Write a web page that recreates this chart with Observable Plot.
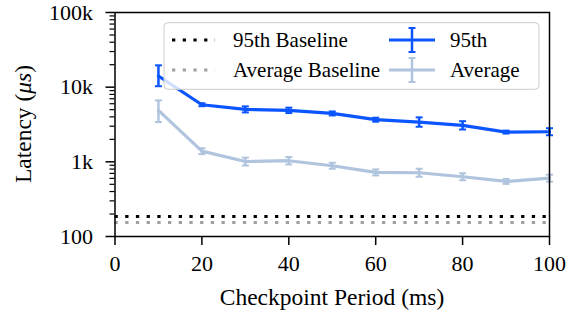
<!DOCTYPE html>
<html><head><meta charset="utf-8">
<script src="https://cdn.jsdelivr.net/npm/d3@7"></script>
<script src="https://cdn.jsdelivr.net/npm/@observablehq/plot@0.6"></script>
<style>body{margin:0;background:#fff} #chart{position:relative;width:575px;height:311px}
#chart svg, #chart svg text {font-family: "Liberation Serif", "Times New Roman", Times, serif !important;}</style>
</head><body><div id="chart"></div>
<script>
// ---- data ----
const periods = [10, 20, 30, 40, 50, 60, 70, 80, 90, 100];
const p95     = [14100, 5820, 5040, 4890, 4450, 3670, 3410, 3080, 2500, 2530];
const p95Lo   = [10300, 5560, 4590, 4500, 4180, 3450, 2950, 2710, 2390, 2270];
const p95Hi   = [19600, 6090, 5530, 5320, 4730, 3900, 3940, 3500, 2620, 2820];
const avg     = [4890, 1390, 1010, 1035, 887, 721, 714, 631, 546, 604];
const avgLo   = [3410, 1270, 893, 923, 809, 657, 631, 566, 506, 542];
const avgHi   = [6650, 1520, 1140, 1160, 973, 791, 808, 703, 590, 673];
const baseline95 = 185;
const baselineAvg = 154;
const xTicks = [0, 20, 40, 60, 80, 100];
const yTicks = [100, 1000, 10000, 100000];
const yTickLabels = ["100", "1k", "10k", "100k"];
const seriesNames = ["95th", "Average"];
const baselineNames = ["95th Baseline", "Average Baseline"];

const C95 = "#0a55ff", CAVG = "#b0c4de", CB95 = "#000000", CBAVG = "#a0a0a0";
const DASH = "3.3,7.4";

const rows = [];
periods.forEach((p, i) => {
  rows.push({series: "95th", x: p, y: p95[i], lo: p95Lo[i], hi: p95Hi[i]});
  rows.push({series: "Average", x: p, y: avg[i], lo: avgLo[i], hi: avgHi[i]});
});
const r95 = rows.filter(d => d.series === "95th");
const rAvg = rows.filter(d => d.series === "Average");

const minorTicks = [];
for (const dec of [100, 1000, 10000]) for (let k = 2; k <= 9; k++) minorTicks.push(dec * k);

const capSymbol = {draw(ctx, size) { const w = Math.sqrt(size / Math.PI); ctx.moveTo(-w, 0); ctx.lineTo(w, 0); }};

function seriesMarks(data, color) {
  return [
    Plot.line(data, {x: "x", y: "y", stroke: color, strokeWidth: 3.2}),
    Plot.ruleX(data, {x: "x", y1: "lo", y2: "hi", stroke: color, strokeWidth: 2.5}),
    Plot.dot(data, {x: "x", y: "lo", symbol: capSymbol, r: 3.5, stroke: color, strokeWidth: 2}),
    Plot.dot(data, {x: "x", y: "hi", symbol: capSymbol, r: 3.5, stroke: color, strokeWidth: 2})
  ];
}

const chart = Plot.plot({
  width: 575, height: 311,
  marginLeft: 114.5, marginRight: 26, marginTop: 12, marginBottom: 75,
  style: {fontSize: "22px", background: "white", color: "black"},
  x: {domain: [0, 100]},
  y: {type: "log", domain: [100, 100000]},
  marks: [
    Plot.ruleY([baseline95], {stroke: CB95, strokeWidth: 3, strokeDasharray: DASH}),
    Plot.ruleY([baselineAvg], {stroke: CBAVG, strokeWidth: 3, strokeDasharray: DASH}),
    ...seriesMarks(r95, C95),
    ...seriesMarks(rAvg, CAVG),
    Plot.frame({stroke: "black", strokeWidth: 1.5}),
    Plot.axisX({ticks: xTicks, tickSize: 9, tickPadding: 10, fontSize: 22, label: null, strokeWidth: 1.5}),
    Plot.axisY({ticks: yTicks, tickSize: 9, tickPadding: 13, fontSize: 22, label: null, strokeWidth: 1.5,
      tickFormat: d => yTickLabels[yTicks.indexOf(d)]}),
    Plot.axisY({ticks: minorTicks, tickSize: 5, tickFormat: () => "", label: null, strokeWidth: 1.2})
  ]
});
document.getElementById("chart").appendChild(chart);

const svg = d3.select(chart);
svg.append("text").attr("x", 332).attr("y", 305).attr("text-anchor", "middle")
  .attr("font-size", 23.5).attr("fill", "black").text("Checkpoint Period (ms)");
const yl = svg.append("text").attr("transform", "translate(30.5,124) rotate(-90)").attr("text-anchor", "middle")
  .attr("font-size", 23.5).attr("fill", "black");
yl.append("tspan").text("Latency (");
yl.append("tspan").attr("font-style", "italic").text("μs");
yl.append("tspan").text(")");

// legend
const lg = svg.append("g");
lg.append("rect").attr("x", 164).attr("y", 22.7).attr("width", 375).attr("height", 66.6).attr("rx", 4)
  .attr("fill", "white").attr("fill-opacity", 0.8).attr("stroke", "#cccccc").attr("stroke-width", 1);
const rowsY = [40, 70];
[[CB95, baselineNames[0]], [CBAVG, baselineNames[1]]].forEach(([c, t], i) => {
  lg.append("line").attr("x1", 172).attr("x2", 215).attr("y1", rowsY[i]).attr("y2", rowsY[i])
    .attr("stroke", c).attr("stroke-width", 3).attr("stroke-dasharray", DASH);
  lg.append("text").attr("x", 233).attr("y", rowsY[i] + 6.5).attr("text-anchor", "start").attr("font-size", 21).attr("fill", "black").text(t);
});
[[C95, seriesNames[0]], [CAVG, seriesNames[1]]].forEach(([c, t], i) => {
  const y = rowsY[i];
  lg.append("line").attr("x1", 389).attr("x2", 435).attr("y1", y).attr("y2", y).attr("stroke", c).attr("stroke-width", 3.2);
  lg.append("line").attr("x1", 412).attr("x2", 412).attr("y1", y - 12).attr("y2", y + 12).attr("stroke", c).attr("stroke-width", 2.5);
  lg.append("line").attr("x1", 408.5).attr("x2", 415.5).attr("y1", y - 12).attr("y2", y - 12).attr("stroke", c).attr("stroke-width", 2);
  lg.append("line").attr("x1", 408.5).attr("x2", 415.5).attr("y1", y + 12).attr("y2", y + 12).attr("stroke", c).attr("stroke-width", 2);
  lg.append("text").attr("x", 450).attr("y", y + 6.5).attr("text-anchor", "start").attr("font-size", 21).attr("fill", "black").text(t);
});
</script></body></html>
